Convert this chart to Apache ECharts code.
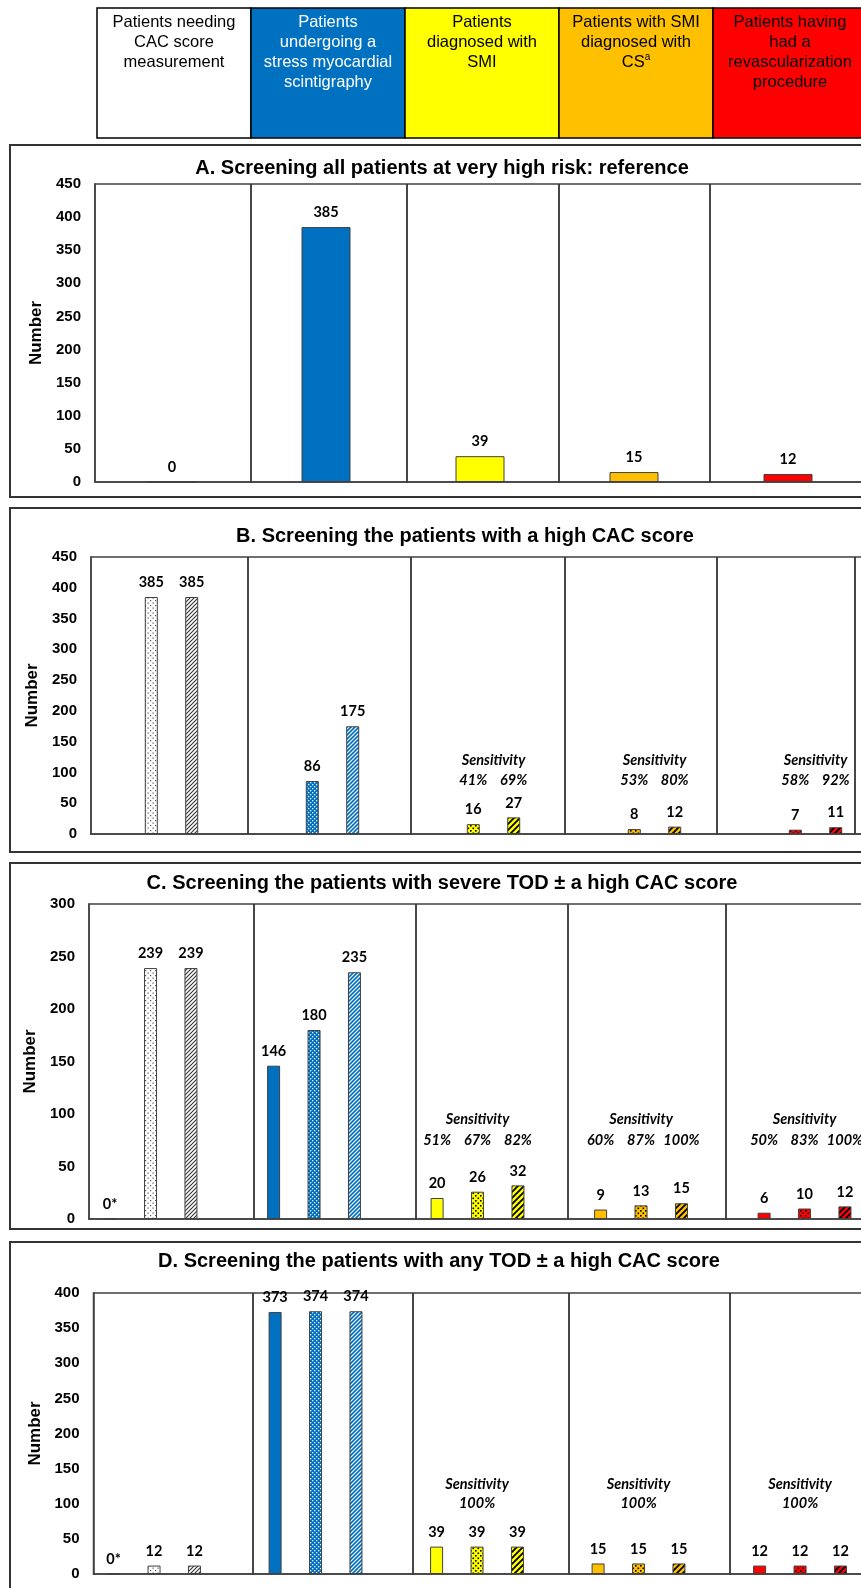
<!DOCTYPE html>
<html><head><meta charset="utf-8">
<script src="https://cdn.jsdelivr.net/npm/echarts@6/dist/echarts.min.js"></script>
<style>html,body{margin:0;padding:0;background:#fff;overflow:hidden}#c{width:861px;height:1588px}</style>
</head><body><div id="c"></div>
<script>
// ---------------- data ----------------
const categories = [
  'Patients needing\nCAC score\nmeasurement',
  'Patients\nundergoing a\nstress myocardial\nscintigraphy',
  'Patients\ndiagnosed with\nSMI',
  'Patients with SMI\ndiagnosed with\nCS^a',
  'Patients having\nhad a\nrevascularization\nprocedure'
];
const panelTitles = [
  'A. Screening all patients at very high risk: reference',
  'B. Screening the patients with a high CAC score',
  'C. Screening the patients with severe TOD \u00b1 a high CAC score',
  'D. Screening the patients with any TOD \u00b1 a high CAC score'
];
const axisMax = [450, 450, 300, 400];
const tickStep = 50;

const aValues   = [0, 385, 39, 15, 12];
const bDotted   = [385, 86, 16, 8, 7];
const bHatched  = [385, 175, 27, 12, 11];
const cSolid    = [0, 146, 20, 9, 6];
const cDotted   = [239, 180, 26, 13, 10];
const cHatched  = [239, 235, 32, 15, 12];
const dSolid    = [0, 373, 39, 15, 12];
const dDotted   = [12, 374, 39, 15, 12];
const dHatched  = [12, 374, 39, 15, 12];

const sensTitle = 'Sensitivity';
const bSensDotted  = [null, null, '41%', '53%', '58%'];
const bSensHatched = [null, null, '69%', '80%', '92%'];
const cSensSolid   = [null, null, '51%', '60%', '50%'];
const cSensDotted  = [null, null, '67%', '87%', '83%'];
const cSensHatched = [null, null, '82%', '100%', '100%'];
const dSensDotted  = [null, null, '100%', '100%', '100%'];
const zeroMark = '0*';

// ---------------- styles / layout ----------------
const COLORS = ['#FFFFFF', '#0070C0', '#FFFF00', '#FFC000', '#FF0000'];
const FG = ['#000', '#fff', '#000', '#000', '#000'];
const SANS = 'Liberation Sans';
const LBL = 'Lato';
const SLOT = 40.5;

function makePattern(bg, fg, kind, step, size) {
  const c = document.createElement('canvas');
  c.width = step; c.height = step;
  const g = c.getContext('2d');
  g.fillStyle = bg; g.fillRect(0, 0, step, step);
  g.fillStyle = fg; g.strokeStyle = fg;
  if (kind === 'dot') {
    g.fillRect(0, 0, size, size);
    g.fillRect(step / 2, step / 2, size, size);
  } else {
    g.lineWidth = size;
    g.beginPath();
    g.moveTo(-1, step + 1); g.lineTo(step + 1, -1);
    g.moveTo(-1, 1); g.lineTo(1, -1);
    g.moveTo(step - 1, step + 1); g.lineTo(step + 1, step - 1);
    g.stroke();
  }
  return { image: c, repeat: 'repeat' };
}
function fill(kind, i) {
  if (kind === 'solid') return COLORS[i];
  const wide = i >= 2;
  if (kind === 'dot') {
    if (i === 0) return makePattern(COLORS[i], '#555', 'dot', 5, 1.2);
    return makePattern(COLORS[i], FG[i], 'dot', wide ? 5 : 4, wide ? 1.6 : 1.3);
  }
  if (i === 0) return makePattern(COLORS[i], '#333', 'hatch', 4, 1.1);
  return makePattern(COLORS[i], FG[i], 'hatch', wide ? 6 : 4, wide ? 1.8 : 1.2);
}

const grids = [
  { left: 95,   top: 184,  width: 770,   height: 298 },
  { left: 91,   top: 557,  width: 805,   height: 277 },
  { left: 89,   top: 904,  width: 817.5, height: 315 },
  { left: 93.5, top: 1293, width: 807.5, height: 281 }
];
const titleX = [442, 465, 442, 439];
const titleY = [170, 538, 885, 1263];
const dividers = [
  [251, 407, 559, 710],
  [248, 411, 565, 717],
  [254, 416, 568, 726],
  [253, 413, 569, 730]
];
const boxes = [
  [10, 145, 352], [10, 508, 344], [10, 863, 366], [10, 1242, 400]
];
// rows (in data units) where sensitivity texts sit
const sensRows = [null, { head: 119, pct: 88 }, { head: 94.5, pct: 74.5 }, { head: 128, pct: 101 }];

const labelStyle = {
  show: true, position: 'top', distance: 7,
  fontFamily: LBL, fontWeight: 'bold', fontSize: 14.5, color: '#000'
};
const markLabel = {
  show: true, position: 'inside', formatter: '{b}', color: '#000',
  fontFamily: LBL, fontStyle: 'italic', fontWeight: 'bold', fontSize: 14.5
};

function marks(texts, row, head, headOffset) {
  const d = [];
  texts.forEach((t, i) => {
    if (t) d.push({ name: t, coord: [i, row] });
  });
  if (head) {
    texts.forEach((t, i) => {
      if (t) d.push({ name: sensTitle, coord: [i, head], label: { offset: [headOffset || 0, 0] } });
    });
  }
  return {
    symbol: 'circle', symbolSize: 1, silent: true, animation: false,
    itemStyle: { color: 'rgba(0,0,0,0)' },
    label: markLabel, data: d
  };
}

function bar(gi, name, values, kind, extra) {
  const s = {
    type: 'bar', name: name, xAxisIndex: gi, yAxisIndex: gi,
    barWidth: gi === 0 ? 49 : 13, barGap: '211%',
    animation: false,
    data: values.map((v, i) => ({ value: v, itemStyle: { color: fill(kind, i) } })),
    itemStyle: { borderColor: '#404040', borderWidth: 1 },
    label: Object.assign({}, labelStyle, {
      formatter: p => (p.value === 0 && gi >= 2) ? zeroMark : String(p.value)
    })
  };
  return Object.assign(s, extra || {});
}

const series = [
  bar(0, 'A', aValues, 'solid'),
  bar(1, 'B dotted', bDotted, 'dot', { markPoint: marks(bSensDotted, sensRows[1].pct, sensRows[1].head, SLOT / 2) }),
  bar(1, 'B hatched', bHatched, 'hatch', { markPoint: marks(bSensHatched, sensRows[1].pct) }),
  bar(2, 'C solid', cSolid, 'solid', { markPoint: marks(cSensSolid, sensRows[2].pct) }),
  bar(2, 'C dotted', cDotted, 'dot', { markPoint: marks(cSensDotted, sensRows[2].pct, sensRows[2].head) }),
  bar(2, 'C hatched', cHatched, 'hatch', { markPoint: marks(cSensHatched, sensRows[2].pct) }),
  { type: 'bar', name: 'C spare', xAxisIndex: 2, yAxisIndex: 2, barWidth: 13, barGap: '211%', data: [] },
  bar(3, 'D solid', dSolid, 'solid'),
  bar(3, 'D dotted', dDotted, 'dot', { markPoint: marks(dSensDotted, sensRows[3].pct, sensRows[3].head) }),
  bar(3, 'D hatched', dHatched, 'hatch'),
  { type: 'bar', name: 'D spare', xAxisIndex: 3, yAxisIndex: 3, barWidth: 13, barGap: '211%', data: [] }
];

// ---------------- graphics (header table, frames, dividers) ----------------
const graphic = [];
categories.forEach((c, i) => {
  const x = 97 + i * 154;
  graphic.push({ type: 'rect', shape: { x: x, y: 8, width: 154, height: 130 },
    style: { fill: COLORS[i], stroke: '#000', lineWidth: 1.5 } });
  graphic.push({ type: 'text', style: {
    text: c.replace('^a', '{sup|a}'), x: x + 77, y: 12, align: 'center', verticalAlign: 'top',
    fontFamily: SANS, fontSize: 16.5, lineHeight: 20, fill: i === 1 ? '#fff' : '#000',
    rich: { sup: { fontFamily: SANS, fontSize: 10, lineHeight: 20, verticalAlign: 'top', fill: '#000' } }
  } });
});
boxes.forEach(b => graphic.push({ type: 'rect', shape: { x: b[0], y: b[1], width: 900, height: b[2] },
  style: { fill: 'none', stroke: '#333', lineWidth: 2 } }));
dividers.forEach((arr, gi) => {
  const g = grids[gi];
  arr.forEach(x => graphic.push({ type: 'line', shape: { x1: x, y1: g.top, x2: x, y2: g.top + g.height + 1 },
    style: { stroke: '#333', lineWidth: 1.8 } }));
});
graphic.push({ type: 'line', shape: { x1: 855, y1: grids[1].top, x2: 855, y2: grids[1].top + grids[1].height },
  style: { stroke: '#333', lineWidth: 1.8 } });

const option = {
  backgroundColor: '#fff',
  animation: false,
  title: panelTitles.map((t, i) => ({
    text: t, left: titleX[i], top: titleY[i] - 12, textAlign: 'center', padding: 0,
    textStyle: { fontFamily: SANS, fontWeight: 'bold', fontSize: 20, color: '#000' }
  })),
  grid: grids.map(g => Object.assign({ show: true, borderColor: '#404040', borderWidth: 1.5,
    containLabel: false, outerBoundsMode: 'none' }, g)),
  xAxis: grids.map((g, i) => ({
    type: 'category', gridIndex: i, data: categories,
    axisLabel: { show: false }, axisTick: { show: false },
    axisLine: { show: true, lineStyle: { color: '#404040', width: 1.5 } }
  })),
  yAxis: grids.map((g, i) => ({
    type: 'value', gridIndex: i, min: 0, max: axisMax[i], interval: tickStep,
    name: 'Number', nameLocation: 'middle', nameGap: 35,
    nameTextStyle: { fontFamily: SANS, fontWeight: 'bold', fontSize: 17, color: '#000' },
    axisLine: { show: true, lineStyle: { color: '#404040', width: 1.5 } },
    axisTick: { show: false }, splitLine: { show: false },
    axisLabel: { fontFamily: SANS, fontWeight: 'bold', fontSize: 15, color: '#000', margin: 14 }
  })),
  graphic: graphic,
  series: series
};
const chart = echarts.init(document.getElementById('c'), null, { renderer: 'canvas' });
chart.setOption(option);
</script></body></html>
